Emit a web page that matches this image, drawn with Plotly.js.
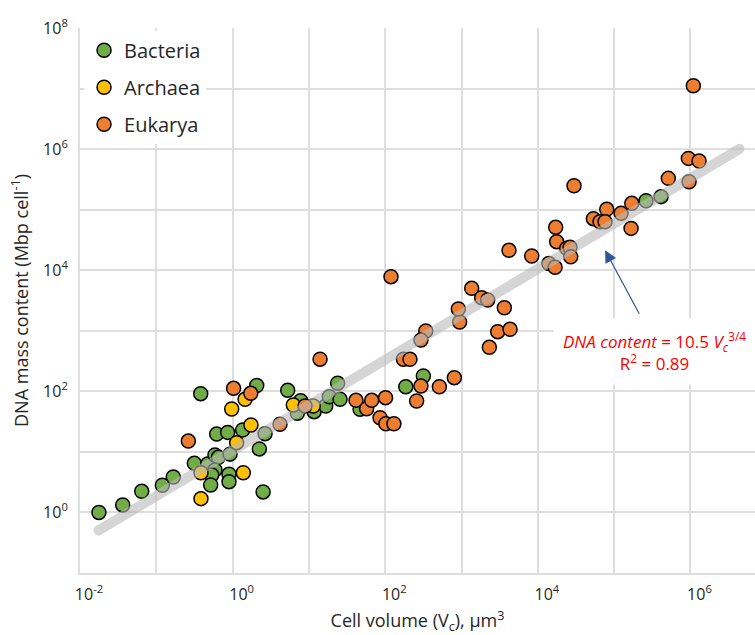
<!DOCTYPE html>
<html>
<head>
<meta charset="utf-8">
<script src="https://cdn.plot.ly/plotly-3.0.1.min.js"></script>
<style>
  html, body { margin: 0; padding: 0; background: #fff; }
  #chart { width: 755px; height: 635px; }
  .scatterlayer .js-line { stroke-linecap: round; }
</style>
</head>
<body>
<div id="chart"></div>
<script>
// Cell volume (µm^3) and DNA mass content (Mbp cell^-1)
const bacteriaVolume = [0.0177, 0.0363, 0.0644, 0.120, 0.167, 0.315, 0.382, 0.472, 0.587, 0.650, 0.587, 0.532, 0.516, 0.618, 0.861, 0.897, 0.897, 0.925, 1.355, 2.51, 2.24, 2.07, 2.66, 5.27, 7.80, 7.05, 11.7, 16.6, 18.5, 23.8, 25.6, 46.8, 186, 316, 261800, 412000];
const bacteriaDNA    = [1.0, 1.33, 2.23, 2.81, 3.85, 6.47, 91.4, 6.31, 8.87, 8.13, 5.02, 4.15, 2.84, 19.7, 21.0, 4.27, 3.22, 9.18, 23.0, 2.18, 11.2, 125, 20.0, 104, 70.0, 43.4, 46.1, 57.3, 81.5, 136, 73.8, 50.4, 119, 179, 140600, 164100];

const archaeaVolume = [0.385, 0.385, 0.973, 1.455, 1.13, 1.74, 1.38, 6.25, 11.4];
const archaeaDNA    = [4.53, 1.69, 51.1, 73.8, 14.2, 27.8, 4.53, 59.4, 57.3];

const eukaryaVolume = [0.263, 1.03, 1.73, 4.18, 14.0, 8.89, 41.4, 57.1, 66.5, 101, 85.5, 102, 130, 173, 211, 340, 294, 294, 512, 805, 258, 944, 908, 2979, 4325, 2317, 119, 4188, 8318, 13960, 1358, 1837, 2203, 3639, 29790, 939700, 1297000, 512900, 959400, 170200, 80000, 123300, 53460, 65310, 76030, 166700, 17140, 17660, 23880, 26420, 26980, 16830, 1091000];
const eukaryaDNA    = [15.1, 112, 92.7, 28.5, 340, 57.3, 71.1, 51.6, 71.1, 78.5, 36.6, 29.2, 29.2, 338, 338, 991, 703, 122, 119, 168, 69.2, 1396, 2286, 966, 1057, 533, 7816, 21330, 17180, 12880, 5023, 3516, 3221, 2404, 248300, 703100, 635300, 328900, 289100, 127400, 101400, 86900, 70960, 63240, 63240, 49090, 51050, 29580, 23010, 23880, 16710, 11170, 11120000];

// Fitted power law: DNA content = 10.5 * Vc^(3/4)
const fitCoef = 10.5;
const fitExp = 0.75;
const fitVolumeEnds = [0.0175, 4.4e6];

const xTickVals = [1e-2, 1e-1, 1e0, 1e1, 1e2, 1e3, 1e4, 1e5, 1e6];
const xTickText = ['10<sup>-2</sup>', '', '10<sup>0</sup>', '', '10<sup>2</sup>', '', '10<sup>4</sup>', '', '10<sup>6</sup>'];
const yTickVals = [1e-1, 1e0, 1e1, 1e2, 1e3, 1e4, 1e5, 1e6, 1e7, 1e8];
const yTickText = ['', '10<sup>0</sup>', '', '10<sup>2</sup>', '', '10<sup>4</sup>', '', '10<sup>6</sup>', '', '10<sup>8</sup>'];

const FONT = 'Open Sans, Noto Sans, sans-serif';
const markerBase = (color) => ({ color: color, size: 14, line: { color: '#000', width: 1.5 } });

const traces = [
  { type: 'scatter', mode: 'markers', name: 'Bacteria', legendgroup: 'b',
    x: bacteriaVolume, y: bacteriaDNA, marker: markerBase('#70AD47') },
  { type: 'scatter', mode: 'markers', name: 'Archaea', legendgroup: 'a',
    x: archaeaVolume, y: archaeaDNA, marker: markerBase('#FFC000') },
  { type: 'scatter', mode: 'markers', name: 'Eukarya', legendgroup: 'e',
    x: eukaryaVolume, y: eukaryaDNA, marker: markerBase('#ED7D31') },
  { type: 'scatter', mode: 'lines', showlegend: false, hoverinfo: 'skip',
    x: fitVolumeEnds, y: fitVolumeEnds.map(v => fitCoef * Math.pow(v, fitExp)),
    line: { color: 'rgba(185,185,185,0.6)', width: 10 } }
];

const axisCommon = {
  type: 'log', showgrid: true, gridcolor: '#dedede', gridwidth: 2,
  showline: true, linecolor: '#dedede', linewidth: 2, zeroline: false,
  ticks: '', tickfont: { family: FONT, size: 16, color: '#262626' }
};

const layout = {
  width: 755, height: 635,
  margin: { l: 80, r: 0, t: 28, b: 62 },
  paper_bgcolor: '#fff', plot_bgcolor: '#fff',
  font: { family: FONT, color: '#262626' },
  showlegend: true,
  legend: {
    x: 0.006, y: 0.995, xanchor: 'left', yanchor: 'top',
    bgcolor: '#fff', borderwidth: 0,
    font: { family: FONT, size: 20, color: '#262626' },
    traceorder: 'grouped', tracegroupgap: 8, itemsizing: 'trace'
  },
  xaxis: Object.assign({}, axisCommon, {
    range: [-2, 6.846], tickvals: xTickVals, ticktext: xTickText,
    ticklabelshift: 9, ticklabelstandoff: 6,
    title: { text: 'Cell volume (V<sub>c</sub>), µm<sup>3</sup>', font: { family: FONT, size: 18, color: '#262626' }, standoff: 17 }
  }),
  yaxis: Object.assign({}, axisCommon, {
    range: [-1, 8], tickvals: yTickVals, ticktext: yTickText,
    ticklabelstandoff: 7,
    title: { text: 'DNA mass content (Mbp cell<sup>-1</sup>)', font: { family: FONT, size: 18, color: '#262626' }, standoff: 10 }
  }),
  annotations: [
    { xref: 'paper', yref: 'paper', x: 0.851, y: 0.407, xanchor: 'center', yanchor: 'middle',
      text: '<i>DNA content</i> = 10.5 <i>V<sub>c</sub></i><sup>3/4</sup><br>R<sup>2</sup> = 0.89',
      showarrow: false, bgcolor: '#fff', borderpad: 9,
      font: { family: FONT, size: 17, color: '#FF0000' } },
    { xref: 'x', yref: 'y', x: 4.881, y: 4.33, ax: 35, ay: 65, text: '',
      showarrow: true, arrowhead: 2, arrowsize: 2, arrowwidth: 1.2, arrowcolor: '#2F5597' }
  ]
};

Plotly.newPlot('chart', traces, layout, { displayModeBar: false, staticPlot: true });
</script>
</body>
</html>
